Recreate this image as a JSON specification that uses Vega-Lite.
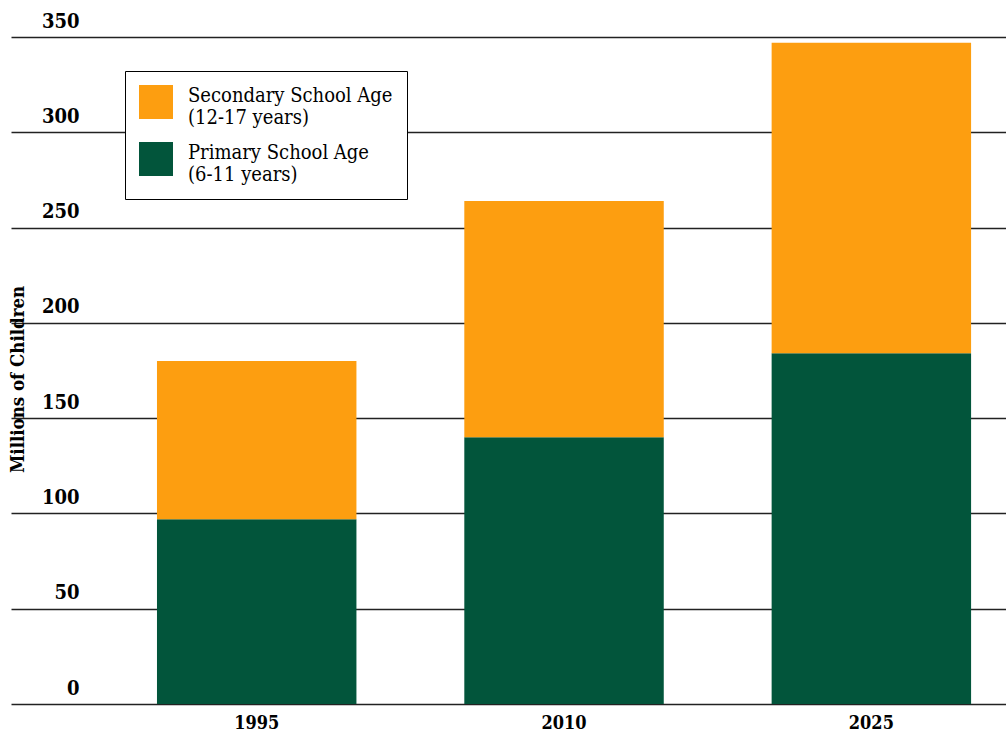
{
  "$schema": "https://vega.github.io/schema/vega-lite/v6.json",
  "autosize": {"type": "none"},
  "padding": {"left": 11, "top": 37, "right": 0, "bottom": 29},
  "width": 995,
  "height": 667,
  "background": "white",
  "data": {
    "values": [
      {"year": "1995", "group": "Primary School Age|(6-11 years)", "value": 97},
      {"year": "1995", "group": "Secondary School Age|(12-17 years)", "value": 83},
      {"year": "2010", "group": "Primary School Age|(6-11 years)", "value": 140},
      {"year": "2010", "group": "Secondary School Age|(12-17 years)", "value": 124},
      {"year": "2025", "group": "Primary School Age|(6-11 years)", "value": 184},
      {"year": "2025", "group": "Secondary School Age|(12-17 years)", "value": 163}
    ]
  },
  "mark": {"type": "bar", "strokeWidth": 0},
  "encoding": {
    "x": {
      "field": "year",
      "type": "nominal",
      "sort": ["1995", "2010", "2025"],
      "scale": {"type": "band", "paddingInner": 0.351, "paddingOuter": 0.2943, "align": 0.807},
      "axis": {
        "title": null,
        "labelAngle": 0,
        "domain": false,
        "ticks": false,
        "labelPadding": 10,
        "labelFont": "DejaVu Serif Condensed",
        "labelFontWeight": "bold",
        "labelFontSize": 18,
        "labelColor": "#000000"
      }
    },
    "y": {
      "field": "value",
      "type": "quantitative",
      "stack": "zero",
      "scale": {"domain": [0, 350], "nice": false},
      "axis": {
        "title": "Millions of Children",
        "titleFont": "DejaVu Serif Condensed",
        "titleFontWeight": "bold",
        "titleFontSize": 18.5,
        "titleColor": "#000000",
        "titleAngle": -90,
        "titleX": 6.5,
        "titleY": 342,
        "titleAlign": "center",
        "titleBaseline": "middle",
        "values": [0, 50, 100, 150, 200, 250, 300, 350],
        "domain": false,
        "ticks": false,
        "tickSize": 0,
        "grid": true,
        "gridColor": "#222222",
        "gridWidth": 1.5,
        "gridOpacity": 1,
        "labelFlush": false,
        "labelOverlap": false,
        "labelAlign": "right",
        "labelBaseline": "alphabetic",
        "labelPadding": -68,
        "labelOffset": -10,
        "labelFont": "DejaVu Serif Condensed",
        "labelFontWeight": "bold",
        "labelFontSize": 20,
        "labelColor": "#000000"
      }
    },
    "color": {
      "field": "group",
      "type": "nominal",
      "scale": {
        "domain": ["Secondary School Age|(12-17 years)", "Primary School Age|(6-11 years)"],
        "range": ["#FD9E10", "#02553B"]
      },
      "legend": {
        "title": null,
        "orient": "none",
        "legendX": 114,
        "legendY": 34,
        "direction": "vertical",
        "fillColor": "#ffffff",
        "strokeColor": "#000000",
        "padding": 14,
        "symbolType": "square",
        "symbolSize": 1156,
        "symbolStrokeWidth": 0,
        "symbolOpacity": 1,
        "labelExpr": "split(datum.label, '|')",
        "labelFont": "DejaVu Serif Condensed",
        "labelFontSize": 20,
        "labelColor": "#000000",
        "labelOffset": 15,
        "labelLimit": 400,
        "labelBaseline": "alphabetic",
        "rowPadding": 14
      }
    },
    "order": {"field": "group", "sort": "ascending"}
  },
  "config": {"view": {"stroke": null}}
}
